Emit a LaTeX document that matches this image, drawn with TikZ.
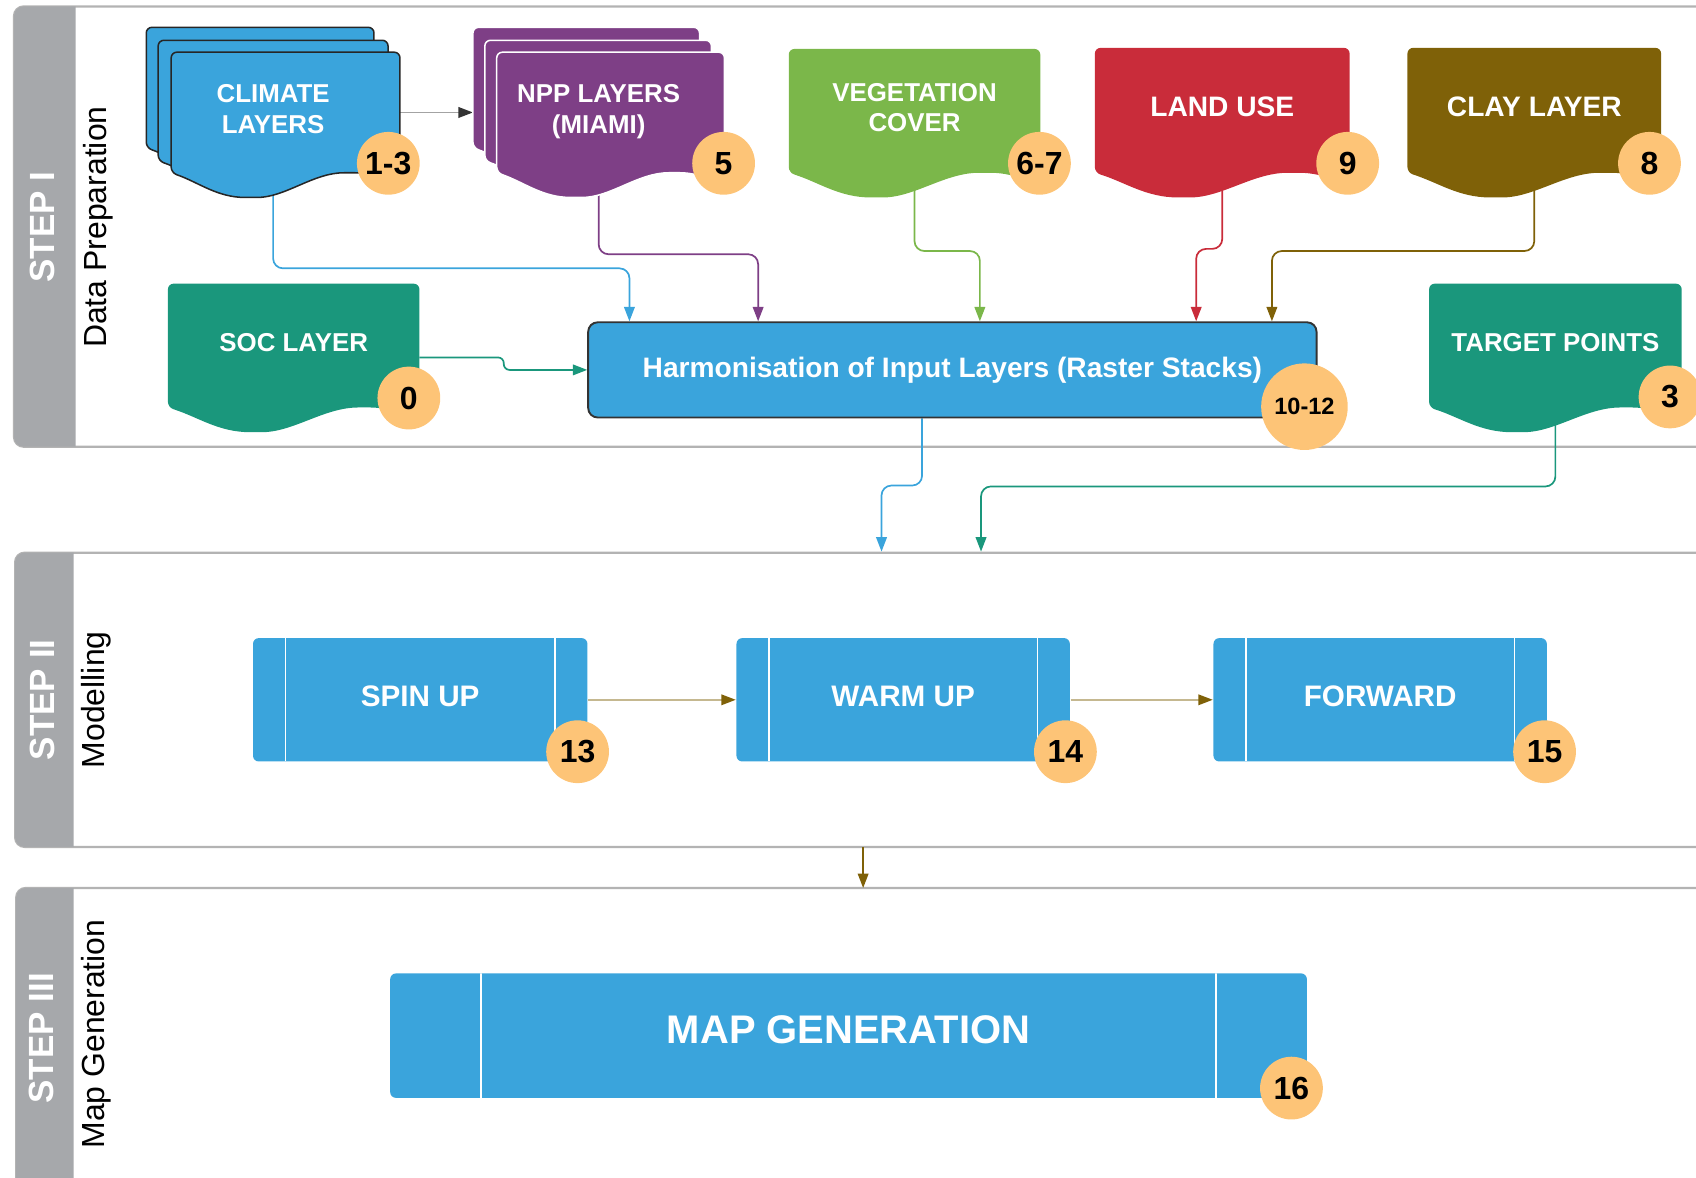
\documentclass[tikz,border=0pt]{standalone}
\usepackage{fontspec}
\setmainfont{Liberation Sans}
\usetikzlibrary{calc,arrows.meta}

\pgfdeclarelayer{lanes}
\pgfdeclarelayer{lines}
\pgfdeclarelayer{shapes}
\pgfsetlayers{lanes,lines,shapes,main}

\definecolor{climblue}{HTML}{3AA4DC}
\definecolor{npppurple}{HTML}{7E3F86}
\definecolor{veggreen}{HTML}{7BB74A}
\definecolor{landred}{HTML}{C92C3A}
\definecolor{claybrown}{HTML}{7F6108}
\definecolor{socteal}{HTML}{1A977C}
\definecolor{headgray}{HTML}{A6A8AB}
\definecolor{laneline}{HTML}{B3B3B3}
\definecolor{badgeorange}{HTML}{FDC477}
\definecolor{tipgray}{HTML}{333333}

% document sheet with a wavy bottom, drawn round a node
% #2 node, #3 colour, #4 left cut, #5 right cut, #6 raise
\newcommand\docfill[6][]{%
  \path[fill=#3,rounded corners=1.5pt,#1] let \p1=(#2.south west), \p2=(#2.north east),
    \n1={\x1+#4}, \n2={\x2-#5}, \n3={\n2-\n1}, \n4={\y1+#6}, \n5={\y2+#6} in
    (\n2,{\n4-3.5pt}) -- (\n2,\n5) -- (\n1,\n5) -- (\n1,\n4)
    .. controls ({\n1+0.12*\n3},{\n4-2.5pt}) and ({\n1+0.2*\n3},{\n4-6.5pt}) .. ({\n1+0.35*\n3},{\n4-6.5pt})
    .. controls ({\n1+0.5*\n3},{\n4-6.5pt}) and ({\n1+0.62*\n3},\n4) .. ({\n1+0.78*\n3},\n4)
    .. controls ({\n1+0.88*\n3},\n4) and ({\n1+0.95*\n3},{\n4-2pt}) .. (\n2,{\n4-3.5pt}) -- cycle;}

\begin{document}
\begin{tikzpicture}[x=0.01cm, y=-0.01cm,
  docnode/.style={inner sep=0pt, text=white, align=center, text depth=1.8pt, font=\fontsize{6.8}{8}\selectfont\bfseries},
  bigdoc/.style={docnode, font=\fontsize{7.4}{8.8}\selectfont\bfseries},
  harmbox/.style={draw=black!80, line width=0.5pt, fill=climblue, rounded corners=2.5pt, text=white, font=\fontsize{7.4}{9}\selectfont\bfseries},
  procbox/.style={fill=climblue, rounded corners=1.5pt, text=white, text depth=2pt, font=\fontsize{7.8}{9}\selectfont\bfseries,
    path picture={\draw[white, line width=0.35pt]
      ([xshift=#1]path picture bounding box.north west) -- ([xshift=#1]path picture bounding box.south west)
      ([xshift=-#1]path picture bounding box.north east) -- ([xshift=-#1]path picture bounding box.south east);}},
  procbox/.default=0.3cm,
  badge/.style={circle, fill=badgeorange, inner sep=0pt, minimum size=0.58cm, font=\fontsize{8.4}{10}\selectfont\bfseries},
  layerlink/.style={draw=#1, line width=0.45pt, rounded corners=2.6pt, -{Triangle[length=3.8pt,width=2.8pt]}},
  steplink/.style={draw=#1!45, line width=0.4pt, -{Triangle[length=3.8pt,width=2.8pt,color=#1]}},
  laneframe/.style={draw=laneline, line width=0.6pt, rounded corners=2.5pt},
  lanehead/.style={fill=headgray, rounded corners=2.5pt},
  lanetitle/.style={rotate=90, text=white, font=\fontsize{9.2}{11}\selectfont\bfseries},
  lanename/.style={rotate=90, font=\fontsize{8.4}{10}\selectfont}]
\useasboundingbox (0,0) rectangle (1568,1089);

% lanes
\begin{pgfonlayer}{lanes}
\draw[laneframe] (13,6) rectangle (1700,413);
\fill[lanehead] (70,6) -- (13,6) -- (13,413) -- (70,413);
\draw[laneframe] (14,511) rectangle (1700,783);
\fill[lanehead] (68,511) -- (14,511) -- (14,783) -- (68,783);
\draw[laneframe] (15,821) rectangle (1700,1200);
\fill[lanehead] (68,821) -- (15,821) -- (15,1200) -- (68,1200);
\end{pgfonlayer}
\node[lanetitle] (stepI) at (39,210) {STEP I};
\node[lanename] (prepI) at (91,210) {Data Preparation};
\node[lanetitle] (stepII) at (39,647) {STEP II};
\node[lanename] (modII) at (89,647) {Modelling};
\node[lanetitle] (stepIII) at (38,960) {STEP III};
\node[lanename] (mapIII) at (89,956) {Map Generation};

% step I
\node[docnode, minimum width=2.33cm, minimum height=1.10cm] (clim) at (252.5,104) {CLIMATE\\LAYERS};
\node[docnode, minimum width=2.31cm, minimum height=1.10cm] (npp) at (553.5,104) {NPP LAYERS\\(MIAMI)};
\node[docnode, minimum width=2.31cm, minimum height=1.13cm] (veg) at (845.5,102.5) {VEGETATION\\COVER};
\node[bigdoc, minimum width=2.34cm, minimum height=1.14cm] (land) at (1130,102) {LAND USE};
\node[bigdoc, minimum width=2.33cm, minimum height=1.14cm] (clay) at (1418.5,102) {CLAY LAYER};
\node[docnode, minimum width=2.31cm, minimum height=1.13cm] (soc) at (271.5,319.5) {SOC LAYER};
\node[docnode, minimum width=2.32cm, minimum height=1.13cm] (target) at (1438,319.5) {TARGET POINTS};
\node[harmbox, minimum width=6.73cm, minimum height=0.88cm] (harm) at (880.5,342) {Harmonisation of Input Layers (Raster Stacks)};

\begin{pgfonlayer}{shapes}
\docfill[draw=black!85, line width=0.4pt]{clim}{climblue}{0pt}{0.24cm}{0.23cm}
\docfill[draw=black!85, line width=0.4pt]{clim}{climblue}{0.11cm}{0.11cm}{0.11cm}
\docfill[draw=black!85, line width=0.4pt]{clim}{climblue}{0.23cm}{0pt}{0pt}
\docfill[draw=white, line width=0.4pt]{npp}{npppurple}{0pt}{0.23cm}{0.23cm}
\docfill[draw=white, line width=0.4pt]{npp}{npppurple}{0.11cm}{0.12cm}{0.11cm}
\docfill[draw=white, line width=0.4pt]{npp}{npppurple}{0.22cm}{0pt}{0pt}
\docfill{veg}{veggreen}{0pt}{0pt}{0pt}
\docfill{land}{landred}{0pt}{0pt}{0pt}
\docfill{clay}{claybrown}{0pt}{0pt}{0pt}
\docfill{soc}{socteal}{0pt}{0pt}{0pt}
\docfill{target}{socteal}{0pt}{0pt}{0pt}
\end{pgfonlayer}

% step II and III
\node[procbox, minimum width=3.09cm, minimum height=1.14cm] (spin) at (388.5,647) {SPIN UP};
\node[procbox, minimum width=3.08cm, minimum height=1.14cm] (warm) at (835,647) {WARM UP};
\node[procbox, minimum width=3.08cm, minimum height=1.14cm] (fwd) at (1276,647) {FORWARD};
\node[procbox=0.84cm, minimum width=8.47cm, minimum height=1.15cm, text depth=3pt, font=\fontsize{10.5}{12}\selectfont\bfseries] (mapgen) at (784.5,957.5) {MAP GENERATION};

\coordinate (inA) at (815,510);
\coordinate (inB) at (907,510);
\coordinate (outII) at (798,783);
\coordinate (inIII) at (798,821);

% connectors
\begin{pgfonlayer}{lines}
\draw[steplink=tipgray] (clim.east) -- (npp.west);
\draw[layerlink=climblue] (clim.south) |- ($(harm.north west)+(39,-49)$) -- ($(harm.north west)+(39,0)$);
\draw[layerlink=npppurple] (npp.south) |- ($(harm.north west)+(158,-62)$) -- ($(harm.north west)+(158,0)$);
\draw[layerlink=veggreen] (veg.south) |- ($(harm.north west)+(363,-65)$) -- ($(harm.north west)+(363,0)$);
\draw[layerlink=landred] (land.south) |- ($(harm.north west)+(563,-67)$) -- ($(harm.north west)+(563,0)$);
\draw[layerlink=claybrown] (clay.south) |- ($(harm.north west)+(633,-65)$) -- ($(harm.north west)+(633,0)$);
\draw[layerlink=socteal, rounded corners=1.5pt] ($(soc.east)+(0,11)$) -- ++(78,0) |- (harm.west);
\draw[layerlink=climblue] ($(harm.south)+(-28,0)$) -- ++(0,62) -| (inA);
\draw[layerlink=socteal] (target.south) -- ++(0,73) -| (inB);
\draw[steplink=claybrown] (spin.east) -- (warm.west);
\draw[steplink=claybrown] (warm.east) -- (fwd.west);
\draw[layerlink=claybrown] (outII) -- (inIII);
\end{pgfonlayer}

% badges
\node[badge] (bClim) at (359,151) {1-3};
\node[badge] (bNpp) at (669,151) {5};
\node[badge] (bVeg) at (961,151) {6-7};
\node[badge] (bLand) at (1246,151) {9};
\node[badge] (bClay) at (1525,151) {8};
\node[badge] (bSoc) at (378,368) {0};
\node[badge] (bTarget) at (1544,367) {3};
\node[badge, minimum size=0.8cm, font=\fontsize{6.2}{8}\selectfont\bfseries] (bHarm) at (1206,376) {10-12};
\node[badge] (bSpin) at (534,695) {13};
\node[badge] (bWarm) at (985,695) {14};
\node[badge] (bFwd) at (1428,695) {15};
\node[badge] (bMap) at (1194,1006) {16};
\end{tikzpicture}
\end{document}
